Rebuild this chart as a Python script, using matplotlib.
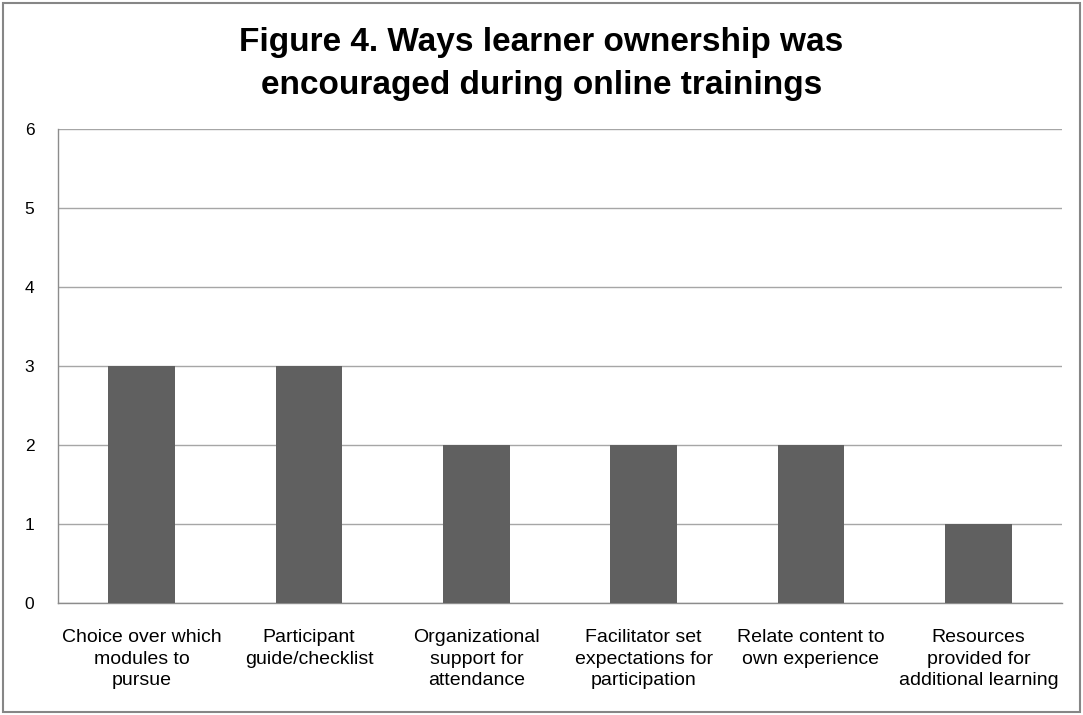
import matplotlib
matplotlib.use("Agg")
import matplotlib.pyplot as plt
from matplotlib.patches import Rectangle

categories = ["Choice over which\nmodules to\npursue",
              "Participant\nguide/checklist",
              "Organizational\nsupport for\nattendance",
              "Facilitator set\nexpectations for\nparticipation",
              "Relate content to\nown experience",
              "Resources\nprovided for\nadditional learning"]
values = [3, 3, 2, 2, 2, 1]
yticks = [0, 1, 2, 3, 4, 5, 6]
title = "Figure 4. Ways learner ownership was\nencouraged during online trainings"

plt.rcParams['font.family'] = ['Liberation Sans', 'DejaVu Sans']

fig = plt.figure(figsize=(10.83, 7.15), dpi=100)
ax = fig.add_axes([58/1083, 1-603/715, (1062-58)/1083, (603-129)/715])

x = list(range(len(categories)))
ax.bar(x, values, width=0.4, color='#606060', zorder=3)
ax.set_xlim(-0.5, len(categories)-0.5)
ax.set_ylim(0, 6)
ax.set_yticks(yticks)
ax.set_yticklabels([str(t) for t in yticks], fontsize=12.5)
ax.set_xticks(x)
ax.set_xticklabels(categories, fontsize=14, linespacing=1.33)
ax.tick_params(axis='both', length=0)
ax.tick_params(axis='y', pad=17)
ax.tick_params(axis='x', pad=19)
ax.grid(axis='y', color='#a6a6a6', linewidth=1, zorder=0)
for s in ['top', 'right']:
    ax.spines[s].set_visible(False)
for s in ['left', 'bottom']:
    ax.spines[s].set_color('#8c8c8c')
    ax.spines[s].set_linewidth(1)

fig.text(0.5, 1-64/715, title, ha='center', va='center', fontsize=24,
         fontweight='bold', linespacing=1.5)

fig.patches.append(Rectangle((3/1083, 3/715), 1-6/1083, 1-6/715,
                             transform=fig.transFigure, fill=False,
                             edgecolor='#868686', linewidth=1.5))

fig.savefig("out.png", dpi=100)
